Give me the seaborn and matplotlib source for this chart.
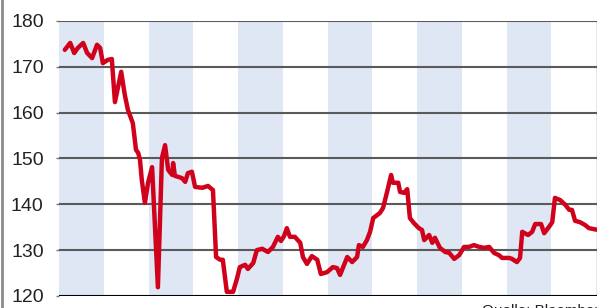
import matplotlib
matplotlib.use("Agg")
import matplotlib.pyplot as plt
from matplotlib.lines import Line2D
import pandas as pd
import seaborn as sns

# time in years since start of chart
years = [0.13, 0.25, 0.34, 0.42, 0.54, 0.63, 0.74, 0.85, 0.92, 0.98,
         1.09, 1.18, 1.25, 1.39, 1.47, 1.54, 1.65, 1.72, 1.77, 1.81,
         1.85, 1.92, 1.99, 2.08, 2.21, 2.30, 2.37, 2.44, 2.53, 2.55,
         2.59, 2.66, 2.75, 2.82, 2.88, 2.97, 3.04, 3.20, 3.33, 3.44,
         3.51, 3.60, 3.66, 3.75, 3.89, 3.98, 4.04, 4.16, 4.22, 4.34,
         4.42, 4.54, 4.67, 4.78, 4.89, 4.96, 5.03, 5.09, 5.16, 5.27,
         5.39, 5.45, 5.54, 5.65, 5.77, 5.85, 5.99, 6.12, 6.21, 6.28,
         6.44, 6.55, 6.66, 6.70, 6.79, 6.88, 6.95, 7.02, 7.17, 7.24,
         7.33, 7.42, 7.46, 7.58, 7.62, 7.71, 7.78, 7.84, 7.93, 8.04,
         8.11, 8.16, 8.27, 8.34, 8.40, 8.51, 8.63, 8.72, 8.83, 8.94,
         9.05, 9.16, 9.27, 9.39, 9.50, 9.61, 9.72, 9.83, 9.90, 10.06,
         10.12, 10.23, 10.30, 10.35, 10.48, 10.57, 10.64, 10.77, 10.84, 10.95,
         11.02, 11.08, 11.20, 11.31, 11.40, 11.46, 11.53, 11.64, 11.75, 11.84,
         12.10]

values = [173.7, 175.2, 173.0, 174.1, 175.2, 173.0, 171.9, 174.8, 174.1, 170.8,
          171.5, 171.7, 162.3, 168.9, 163.9, 160.6, 157.7, 151.9, 151.2, 149.7,
          145.3, 140.3, 144.7, 148.1, 121.9, 150.1, 152.9, 147.5, 146.4, 149.0,
          146.2, 146.0, 145.7, 144.9, 146.8, 147.1, 143.8, 143.6, 144.0, 143.1,
          128.5, 127.9, 127.9, 120.9, 120.9, 123.9, 126.3, 126.8, 125.9, 127.2,
          130.0, 130.3, 129.6, 130.7, 132.9, 132.0, 133.1, 134.8, 132.9, 132.9,
          131.6, 128.5, 127.0, 128.7, 127.9, 124.8, 125.2, 126.3, 126.1, 124.6,
          128.5, 127.4, 128.5, 131.1, 130.7, 132.2, 134.0, 137.0, 138.1, 139.2,
          142.7, 146.4, 144.7, 144.7, 142.7, 142.5, 143.3, 137.0, 135.9, 134.8,
          134.4, 132.2, 133.3, 131.6, 132.7, 130.5, 129.6, 129.4, 128.1, 128.9,
          130.7, 130.7, 131.1, 130.7, 130.5, 130.7, 129.4, 128.9, 128.3, 128.3,
          128.1, 127.4, 128.3, 134.0, 133.3, 134.0, 135.7, 135.7, 133.7, 135.1,
          136.1, 141.4, 140.9, 139.9, 138.8, 138.8, 136.4, 136.1, 135.5, 134.8,
          134.3]

# shaded periods (every other year)
band_starts = [0, 2, 4, 6, 8, 10, 12]
y_ticks = [120, 130, 140, 150, 160, 170, 180]
source = "Quelle: Bloomberg"

df = pd.DataFrame({"t": years, "v": values})

sns.set_style("white")
plt.rcParams["font.family"] = ["Liberation Sans", "DejaVu Sans"]

fig = plt.figure(figsize=(5.97, 3.08), dpi=100)
ax = fig.add_axes([0.0988, 0.039, 0.9012, 0.893])

for b in band_starts:
    ax.axvspan(b, b + 1, color="#dfe7f4", lw=0, zorder=0)

for yt in y_ticks:
    ax.axhline(yt, color="#000000" if yt == 120 else "#5a5a5a", lw=1.5, zorder=1)

sns.lineplot(data=df, x="t", y="v", ax=ax, color="#d0021b", lw=3.2, zorder=3)

ax.set_xlim(0, 12.02)
ax.set_ylim(120, 180)
ax.set_yticks(y_ticks)
ax.set_xticks([])
ax.set_xlabel("")
ax.set_ylabel("")
ax.tick_params(axis="y", labelsize=14, colors="#222222", length=2, width=1,
               pad=9, left=True)
ax.tick_params(axis="y", color="#777777")
for s in ax.spines.values():
    s.set_visible(False)

# grey frame line on the left edge
fig.add_artist(Line2D([0.003, 0.003], [0, 1], color="#8a8a8a", lw=2))
# source note sits at the lower edge, as in the cropped original
fig.text(0.807, 0.012, source, fontsize=11, color="#222222", va="top")

fig.savefig("out.png", dpi=100)
